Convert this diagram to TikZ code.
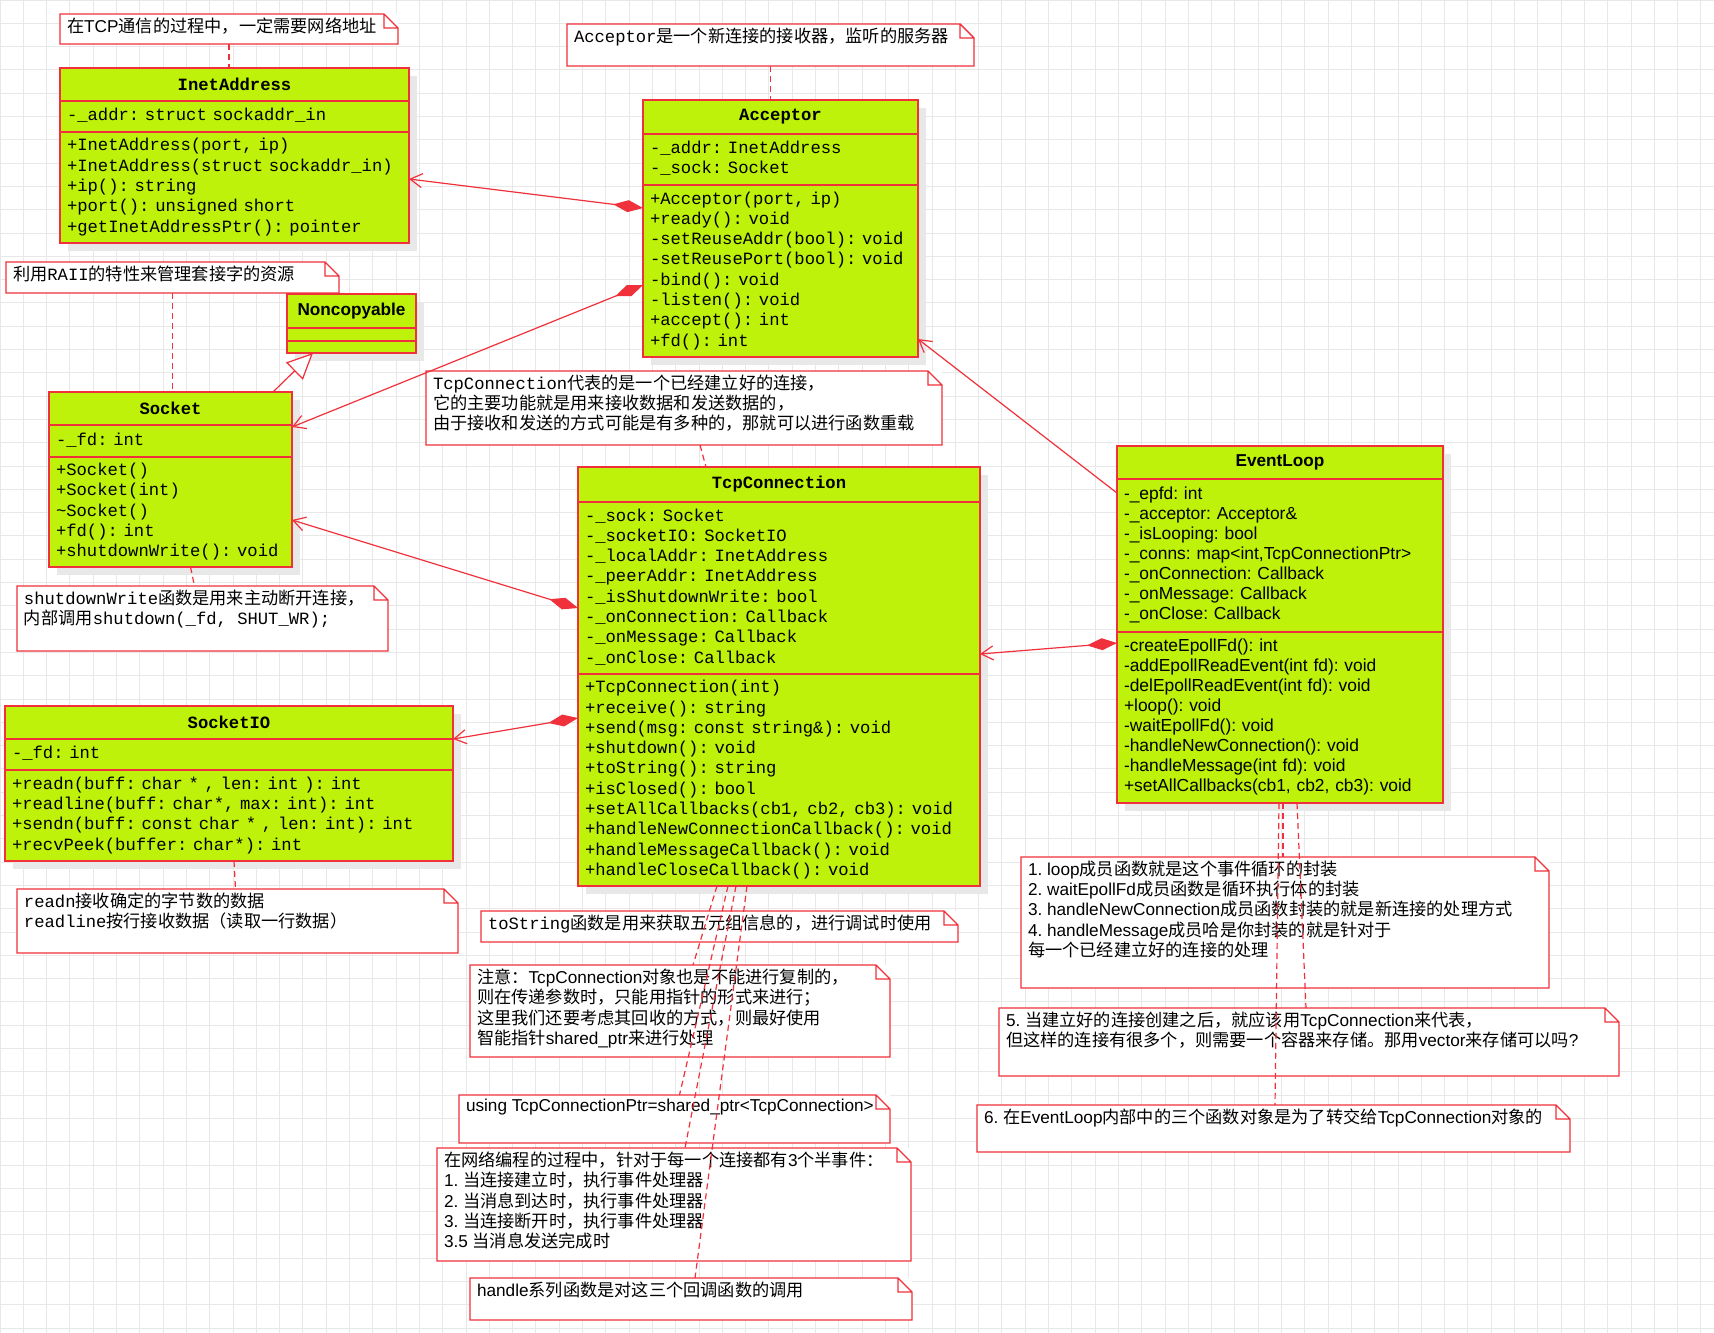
\documentclass[tikz,border=0pt]{standalone}
\usepackage{fontspec}
\setmainfont{Liberation Sans}
\setmonofont{Liberation Mono}
\newfontfamily\cjk{Noto Sans CJK SC}
\usepackage{xcolor}
\usepackage{tikz}
\usetikzlibrary{arrows.meta,positioning,shadows}
\definecolor{umlgreen}{RGB}{190,242,10}
\definecolor{umlred}{RGB}{240,48,58}
\definecolor{gridgray}{RGB}{232,232,232}
\definecolor{shadowgray}{RGB}{232,232,232}
\frenchspacing
\newcommand{\members}[1]{\begin{tabular}{@{}l@{}}#1\end{tabular}}
\newcommand{\monofont}{\fontsize{8.6}{10.15}\selectfont\ttfamily\spaceskip=0.6em\relax}

% Chinese characters switch to the CJK font on their own
\chardef\cjkcls=10
\newcount\cjkcode
\cjkcode="3000
\loop \XeTeXcharclass\cjkcode=\cjkcls \advance\cjkcode by 1 \ifnum\cjkcode<"3040 \repeat
\cjkcode="4E00
\loop \XeTeXcharclass\cjkcode=\cjkcls \advance\cjkcode by 1 \ifnum\cjkcode<"A000 \repeat
\cjkcode="FF00
\loop \XeTeXcharclass\cjkcode=\cjkcls \advance\cjkcode by 1 \ifnum\cjkcode<"FFF0 \repeat
\XeTeXinterchartoks 0 \cjkcls = {\begingroup\cjk}
\XeTeXinterchartoks 4095 \cjkcls = {\begingroup\cjk}
\XeTeXinterchartoks \cjkcls 0 = {\endgroup}
\XeTeXinterchartoks \cjkcls 4095 = {\endgroup}
\XeTeXinterchartokenstate=1

\begin{document}
\begin{tikzpicture}[x=0.5pt, y=-0.5pt,
  head/.style={draw=umlred, fill=umlgreen, line width=1pt, anchor=north west, inner sep=0pt, outer sep=0pt,
    font=\fontsize{8.6}{10.15}\selectfont\ttfamily\bfseries,
    drop shadow={shadow xshift=4pt, shadow yshift=-4pt, fill=shadowgray, opacity=1}},
  body/.style={draw=umlred, fill=umlgreen, line width=1pt, inner xsep=3.5pt, inner ysep=1pt, outer sep=0pt,
    font=\monofont,
    drop shadow={shadow xshift=4pt, shadow yshift=-4pt, fill=shadowgray, opacity=1}},
  sansbody/.style={body, font=\fontsize{8.7}{10}\selectfont\rmfamily},
  note/.style 2 args={fill=white, anchor=north west, inner xsep=3.5pt, inner ysep=2pt, outer sep=0pt,
    font=\fontsize{8.6}{10.1}\selectfont,
    execute at begin node={\begin{minipage}[t][#2][t]{#1}},
    execute at end node={\end{minipage}}},
  noteline/.style={draw=umlred, line width=0.7pt},
  link/.style={draw=umlred, line width=0.6pt, dash pattern=on 3pt off 2pt},
  comp/.style={draw=umlred, line width=0.6pt, arrows={Diamond[length=15pt,width=6pt]-Straight Barb[length=6pt,width=7pt]}},
  assoc/.style={draw=umlred, line width=0.6pt, arrows={-Straight Barb[length=6pt,width=7pt]}},
  inherit/.style={draw=umlred, line width=0.6pt, arrows={-Triangle[length=13pt,width=12pt,fill=white]}}
]
\fill[white] (0,0) rectangle (1714,1333);
\useasboundingbox (0,0) rectangle (1714,1333);
\draw[gridgray, line width=0.5pt, step=11.65pt] (0,1333) grid (1714,0);

% classes
\node[head, minimum width=174.5pt, minimum height=16.5pt] (inetH) at (60,68) {InetAddress};
\node[body, text width=167.5pt, minimum height=15.5pt, below=0pt of inetH] (inetA) {\members{-\_addr: struct sockaddr\_in}};
\node[body, text width=167.5pt, minimum height=55.5pt, below=0pt of inetA] (inetM) {\members{+InetAddress(port, ip)\\+InetAddress(struct sockaddr\_in)\\+ip(): string\\+port(): unsigned short\\+getInetAddressPtr(): pointer}};

\node[head, minimum width=137.5pt, minimum height=17pt] (accH) at (643,100) {Acceptor};
\node[body, text width=130.5pt, minimum height=25.5pt, below=0pt of accH] (accA) {\members{-\_addr: InetAddress\\-\_sock: Socket}};
\node[body, text width=130.5pt, minimum height=86pt, below=0pt of accA] (accM) {\members{+Acceptor(port, ip)\\+ready(): void\\-setReuseAddr(bool): void\\-setReusePort(bool): void\\-bind(): void\\-listen(): void\\+accept(): int\\+fd(): int}};

\node[head, minimum width=64.5pt, minimum height=17pt, font=\fontsize{8.6}{10.15}\selectfont\bfseries] (ncH) at (287,294) {Noncopyable};
\node[body, text width=57.5pt, minimum height=6.5pt, below=0pt of ncH] (ncA) {};
\node[body, text width=57.5pt, minimum height=6pt, below=0pt of ncA] (ncM) {};

\node[head, minimum width=121.5pt, minimum height=16.5pt] (sockH) at (49,392) {Socket};
\node[body, text width=114.5pt, minimum height=16pt, below=0pt of sockH] (sockA) {\members{-\_fd: int}};
\node[body, text width=114.5pt, minimum height=55pt, below=0pt of sockA] (sockM) {\members{+Socket()\\+Socket(int)\\\textasciitilde Socket()\\+fd(): int\\+shutdownWrite(): void}};

\node[head, minimum width=201pt, minimum height=17.5pt] (tcpH) at (578,467) {TcpConnection};
\node[body, text width=194pt, minimum height=86pt, below=0pt of tcpH] (tcpA) {\members{-\_sock: Socket\\-\_socketIO: SocketIO\\-\_localAddr: InetAddress\\-\_peerAddr: InetAddress\\-\_isShutdownWrite: bool\\-\_onConnection: Callback\\-\_onMessage: Callback\\-\_onClose: Callback}};
\node[body, text width=194pt, minimum height=106pt, below=0pt of tcpA] (tcpM) {\members{+TcpConnection(int)\\+receive(): string\\+send(msg: const string\&): void\\+shutdown(): void\\+toString(): string\\+isClosed(): bool\\+setAllCallbacks(cb1, cb2, cb3): void\\+handleNewConnectionCallback(): void\\+handleMessageCallback(): void\\+handleCloseCallback(): void}};

\node[head, minimum width=163pt, minimum height=16.5pt, font=\fontsize{8.6}{10.15}\selectfont\bfseries] (evH) at (1117,446) {EventLoop};
\node[sansbody, text width=156pt, minimum height=76.5pt, below=0pt of evH] (evA) {\members{-\_epfd: int\\-\_acceptor: Acceptor\&\\-\_isLooping: bool\\-\_conns: map<int,TcpConnectionPtr>\\-\_onConnection: Callback\\-\_onMessage: Callback\\-\_onClose: Callback}};
\node[sansbody, text width=156pt, minimum height=85.5pt, below=0pt of evA] (evM) {\members{-createEpollFd(): int\\-addEpollReadEvent(int fd): void\\-delEpollReadEvent(int fd): void\\+loop(): void\\-waitEpollFd(): void\\-handleNewConnection(): void\\-handleMessage(int fd): void\\+setAllCallbacks(cb1, cb2, cb3): void}};

\node[head, minimum width=224pt, minimum height=16.5pt] (sioH) at (5,706) {SocketIO};
\node[body, text width=217pt, minimum height=15.5pt, below=0pt of sioH] (sioA) {\members{-\_fd: int}};
\node[body, text width=217pt, minimum height=45.5pt, below=0pt of sioA] (sioM) {\members{+readn(buff: char * , len: int ): int\\+readline(buff: char*, max: int): int\\+sendn(buff: const char * , len: int): int\\+recvPeek(buffer: char*): int}};

% notes
\node[note={162pt}{11pt}] (nInet) at (60,14) {在TCP通信的过程中，一定需要网络地址};
\node[note={196.5pt}{17pt}] (nAcc) at (567,24) {\ttfamily Acceptor是一个新连接的接收器，监听的服务器};
\node[note={159.5pt}{11.5pt}] (nRaii) at (6,262) {利用\texttt{RAII}的特性来管理套接字的资源};
\node[note={178.5pt}{28.5pt}] (nShut) at (17,586) {\monofont shutdownWrite函数是用来主动断开连接，\\内部调用shutdown(\_fd, SHUT\_WR);};
\node[note={251pt}{33pt}] (nTcp) at (426,371) {\ttfamily TcpConnection代表的是一个已经建立好的连接，\\它的主要功能就是用来接收数据和发送数据的，\\由于接收和发送的方式可能是有多种的，那就可以进行函数重载};
\node[note={213.5pt}{28pt}] (nReadn) at (17,889) {\ttfamily readn接收确定的字节数的数据\\readline按行接收数据（读取一行数据）};
\node[note={231.5pt}{11.5pt}] (nToStr) at (481,911) {\ttfamily toString函数是用来获取五元组信息的，进行调试时使用};
\node[note={203pt}{42pt}] (nNote) at (470,965) {注意：TcpConnection对象也是不能进行复制的，\\则在传递参数时，只能用指针的形式来进行；\\这里我们还要考虑其回收的方式，则最好使用\\智能指针shared\_ptr来进行处理};
\node[note={208.5pt}{20pt}] (nUsing) at (459,1095) {using TcpConnectionPtr=shared\_ptr<TcpConnection>};
\node[note={230pt}{52.5pt}] (nEvents) at (437,1148) {在网络编程的过程中，针对于每一个连接都有3个半事件：\\1. 当连接建立时，执行事件处理器\\2. 当消息到达时，执行事件处理器\\3. 当连接断开时，执行事件处理器\\3.5 当消息发送完成时};
\node[note={214pt}{17pt}] (nHandle) at (470,1278) {handle系列函数是对这三个回调函数的调用};
\node[note={257pt}{61.5pt}] (nLoop) at (1021,857) {1. loop成员函数就是这个事件循环的封装\\2. waitEpollFd成员函数是循环执行体的封装\\3. handleNewConnection成员函数封装的就是新连接的处理方式\\4. handleMessage成员哈是你封装的就是针对于\\每一个已经建立好的连接的处理};
\node[note={303pt}{30pt}] (nStore) at (999,1008) {5. 当建立好的连接创建之后，就应该用TcpConnection来代表，\\但这样的连接有很多个，则需要一个容器来存储。那用vector来存储可以吗?};
\node[note={289.5pt}{19.5pt}] (nTrans) at (977,1105) {6. 在EventLoop内部中的三个函数对象是为了转交给TcpConnection对象的};

\foreach \n in {nInet,nAcc,nRaii,nShut,nTcp,nReadn,nToStr,nNote,nUsing,nEvents,nHandle,nLoop,nStore,nTrans}
  \draw[noteline] (\n.north west) -- ([xshift=-7pt]\n.north east) -- ([yshift=-7pt]\n.north east) -- (\n.south east) -- (\n.south west) -- cycle
    ([xshift=-7pt]\n.north east) -- ([shift={(-7pt,-7pt)}]\n.north east) -- ([yshift=-7pt]\n.north east);

% note links
\draw[link] (nInet.south) -- (nInet.south |- inetH.north);
\draw[link] (nAcc.south) -- (nAcc.south |- accH.north);
\draw[link] (nRaii.south) -- (nRaii.south |- sockH.north);
\draw[link] ([shift={(20,0)}]sockM.south) -- ([shift={(-8,0)}]nShut.north);
\draw[link] ([shift={(5,0)}]sioM.south) -- ([shift={(-2,0)}]nReadn.north);
\draw[link] ([shift={(16,0)}]nTcp.south) -- ([shift={(-73,0)}]tcpH.north);
\draw[link] ([shift={(-62,0)}]tcpM.south) -- ([shift={(13,0)}]nNote.north);
\draw[link] ([shift={(-51,0)}]tcpM.south) -- ([shift={(5,0)}]nUsing.north);
\draw[link] ([shift={(-43,0)}]tcpM.south) -- ([shift={(11,0)}]nEvents.north);
\draw[link] ([shift={(-32,0)}]tcpM.south) -- ([shift={(4,0)}]nHandle.north);
\draw[link] ([shift={(-1,0)}]evM.south) -- ([shift={(1.5,0)}]nTrans.north);
\draw[link] ([shift={(3,0)}]evM.south) -- ([shift={(-2,0)}]nLoop.north);
\draw[link] ([shift={(17,0)}]evM.south) -- ([shift={(-3,0)}]nStore.north);

% relations
\draw[comp] ([shift={(0,23)}]accM.north west) -- ([shift={(0,47)}]inetM.north east);
\draw[comp] ([shift={(0,100)}]accM.north west) -- ([shift={(0,2)}]sockA.north east);
\draw[comp] ([shift={(0,106)}]tcpA.north west) -- ([shift={(0,63)}]sockM.north east);
\draw[comp] ([shift={(0,44)}]tcpM.north west) -- (sioA.north east);
\draw[comp] ([shift={(0,11)}]evM.north west) -- ([shift={(0,152)}]tcpA.north east);
\draw[assoc] ([shift={(0,14)}]evA.north west) -- ([shift={(0,-18)}]accM.south east);
\draw[inherit] ([shift={(-19,0)}]sockH.north east) -- ([shift={(26,0)}]ncM.south west);
\end{tikzpicture}
\end{document}
